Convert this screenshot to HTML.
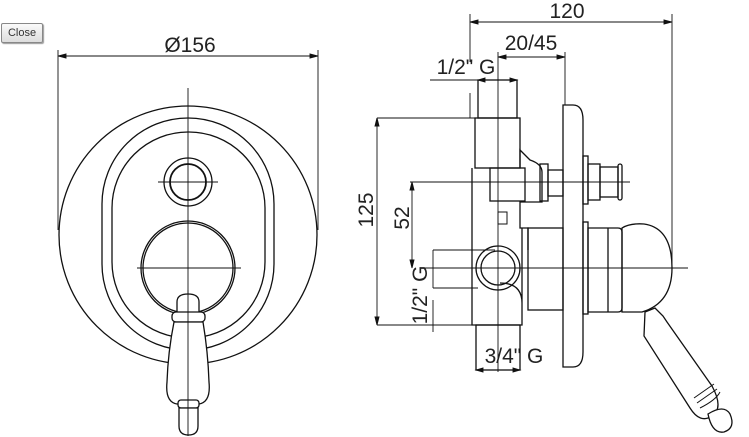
<!DOCTYPE html>
<html><head><meta charset="utf-8"><style>
html,body{margin:0;padding:0;background:#fff;width:749px;height:437px;overflow:hidden}
svg{display:block}
text{font-family:"Liberation Sans","DejaVu Sans",sans-serif;fill:#222}
.btn{position:absolute;left:1px;top:23px;width:40px;height:18px;border:1px solid #888;border-radius:2px;background:linear-gradient(#fafafa,#ddd);font:11px "Liberation Sans",sans-serif;color:#333;text-align:center;line-height:18px;box-shadow:1px 1px 1px #999}
</style></head><body>
<div class="btn">Close</div>
<svg width="749" height="437" viewBox="0 0 749 437" fill="none" stroke="#111" stroke-width="1.3">
<!-- LEFT VIEW -->
<g stroke-width="0.9">
<line x1="58" y1="50" x2="58" y2="230"/><line x1="318" y1="50" x2="318" y2="230"/>
<line x1="58" y1="56" x2="318" y2="56"/>
<path d="M58 56 l8 -2 v4z M318 56 l-8 -2 v4z" fill="#111"/>
<line x1="188" y1="88" x2="188" y2="436"/>
<line x1="158" y1="182" x2="218" y2="182"/>
<line x1="137" y1="268" x2="241" y2="268"/>
</g>
<text x="190" y="52" font-size="21" text-anchor="middle" stroke="none">Ø156</text>
<circle cx="188" cy="235" r="129"/>
<rect x="102" y="118" width="172" height="232" rx="86" ry="86"/>
<rect x="112" y="132" width="153" height="206" rx="76" ry="76"/>
<circle cx="188" cy="182" r="24"/><circle cx="188" cy="182" r="18" stroke-width="1.8"/>
<circle cx="188" cy="268" r="47"/><circle cx="188" cy="268" r="45"/>
<g fill="#fff">
<path d="M177 322 v-20 q0 -8 11 -8 q11 0 11 8 v20z"/>
<rect x="172" y="312" width="33" height="10" rx="4"/>
<path d="M174 322 h29 q5 30 6 60 q2 20 -10 22 h-22 q-12 -2 -10 -22 q1 -30 7 -60z"/>
<rect x="178" y="400" width="21" height="8" rx="3"/>
<path d="M179 408 h19 v18 q0 9 -9.5 9 q-9.5 0 -9.5 -9z"/>
</g>
<line x1="188" y1="290" x2="188" y2="436" stroke-width="0.9"/>

<!-- RIGHT VIEW -->
<g stroke-width="0.9">
<line x1="470" y1="14" x2="470" y2="62"/><line x1="470" y1="93" x2="470" y2="118"/>
<line x1="672" y1="14" x2="672" y2="268"/>
<line x1="470" y1="22" x2="672" y2="22"/>
<path d="M470 22 l8 -2 v4z M672 22 l-8 -2 v4z" fill="#111"/>
<line x1="565" y1="52" x2="565" y2="105"/>
<line x1="498" y1="57" x2="565" y2="57"/>
<path d="M498 57 l8 -2 v4z M565 57 l-8 -2 v4z" fill="#111"/>
<line x1="498" y1="52" x2="498" y2="372"/>
<line x1="430" y1="80" x2="517" y2="80"/>
<path d="M478 80 l7 -2 v4z M517 80 l-7 -2 v4z" fill="#111"/>
<line x1="377" y1="118" x2="377" y2="325"/>
<line x1="377" y1="118" x2="476" y2="118"/><line x1="377" y1="325" x2="472" y2="325"/>
<path d="M377 118 l-2 8 h4z M377 325 l-2 -8 h4z" fill="#111"/>
<line x1="410" y1="182" x2="630" y2="182"/>
<line x1="412" y1="182" x2="412" y2="268"/>
<path d="M412 182 l-2 8 h4z M412 268 l-2 -8 h4z" fill="#111"/>
<line x1="420" y1="268" x2="688" y2="268"/>
<line x1="433" y1="250" x2="433" y2="288"/>
<line x1="433" y1="250" x2="495" y2="250"/><line x1="433" y1="288" x2="478" y2="288"/>
<line x1="433" y1="300" x2="433" y2="332"/>
<line x1="441" y1="325" x2="472" y2="325"/>
<line x1="476" y1="370" x2="520" y2="370"/>
<path d="M476 370 l7 -2 v4z M520 370 l-7 -2 v4z" fill="#111"/>
</g>
<text x="567" y="18" font-size="21" text-anchor="middle" stroke="none">120</text>
<text x="531" y="50" font-size="21" text-anchor="middle" stroke="none">20/45</text>
<text x="466" y="74" font-size="21" text-anchor="middle" stroke="none">1/2" G</text>
<text x="514" y="363" font-size="21" text-anchor="middle" stroke="none">3/4" G</text>
<text transform="translate(373,210) rotate(-90)" font-size="21" text-anchor="middle" stroke="none">125</text>
<text transform="translate(409,218) rotate(-90)" font-size="21" text-anchor="middle" stroke="none">52</text>
<text transform="translate(427,295) rotate(-90)" font-size="21" text-anchor="middle" stroke="none">1/2" G</text>
<!-- body -->
<rect x="478" y="80" width="39" height="38"/>
<rect x="475" y="118" width="45" height="50"/>
<path d="M472 168 v157 h50 v-22 q0 -20 -22 -20 M520 168 v-18 l10 10 q12 4 12 12 v30 h-22 v26 h8 v22 M522 228 v75"/>
<rect x="490" y="168" width="35" height="33"/>
<rect x="540" y="164" width="8" height="37"/>
<rect x="548" y="170" width="15" height="26"/>
<rect x="476" y="325" width="44" height="45"/>
<rect x="498" y="212" width="9" height="12" stroke-width="1"/>
<circle cx="498" cy="268" r="22"/><circle cx="498" cy="268" r="17"/>
<rect x="528" y="228" width="35" height="82"/>
<path d="M563 105 h10 q10 0 10 15 v232 q0 15 -10 15 h-10z"/>
<rect x="583" y="156" width="5" height="48"/>
<rect x="588" y="164" width="12" height="36"/>
<rect x="600" y="167" width="18" height="30"/>
<rect x="618" y="164" width="4" height="36" rx="2"/>
<rect x="583" y="222" width="5" height="92"/>
<path d="M588 228 h30 q4 0 4 4 v76 q0 4 -4 4 h-30z"/>
<line x1="608" y1="228" x2="608" y2="312"/>
<path d="M622 312 v-84 q8 -5 22 -4 q28 4 28 44 q0 35 -30 44z"/>
<path d="M645 312 l10 -4 l8 8 l4 6 l45 64 q12 22 0 30 q-12 8 -22 -8 l-46 -72z" fill="#fff"/>
<path d="M694 398 l20 -14 M697 403 l20 -14 M700 408 q16 -8 20 -16" stroke-width="1"/>
<path d="M708 414 q16 -10 22 0 q6 14 -6 18 q-12 2 -16 -18z" fill="#fff"/>
</svg>
</body></html>
